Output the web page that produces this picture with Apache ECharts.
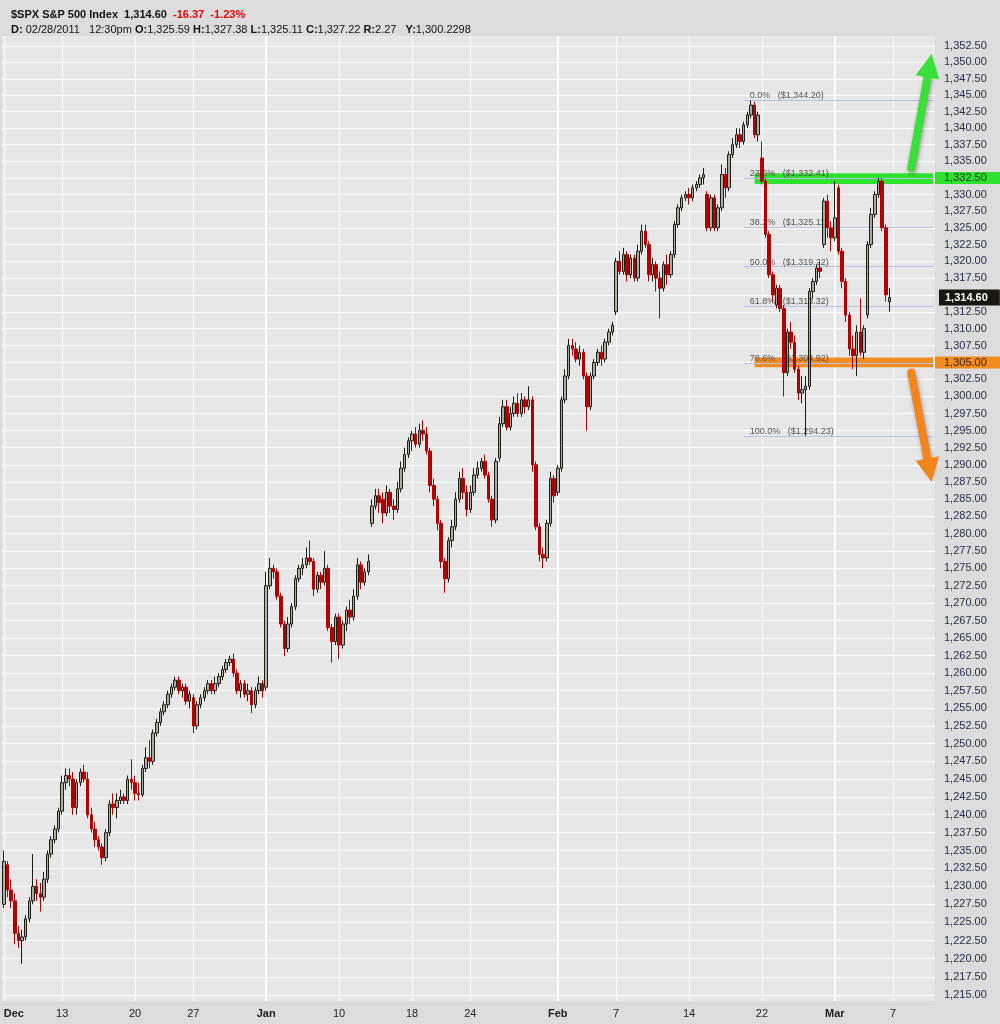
<!DOCTYPE html>
<html><head><meta charset="utf-8">
<script src="https://cdn.jsdelivr.net/npm/echarts@6/dist/echarts.min.js"></script>
<style>html,body{margin:0;padding:0;background:#dcdcdc}#c{width:1000px;height:1024px}</style>
</head><body><div id="c"></div>
<script>
// ---------- DATA ----------
const tradingDays = ['12/07','12/08','12/09','12/10','12/13','12/14','12/15','12/16','12/17','12/20','12/21','12/22','12/23','12/27','12/28','12/29','12/30','12/31',
  '01/03','01/04','01/05','01/06','01/07','01/10','01/11','01/12','01/13','01/14','01/18','01/19','01/20','01/21','01/24','01/25','01/26','01/27','01/28','01/31',
  '02/01','02/02','02/03','02/04','02/07','02/08','02/09','02/10','02/11','02/14','02/15','02/16','02/17','02/18','02/22','02/23','02/24','02/25','02/28',
  '03/01','03/02','03/03','03/04','03/07','03/08','03/09'];
const barsPerDay = 4;
// each bar: [open, close, low, high]
const decBars = [
 [1227.5,1233.5,1227,1235],[1233,1229.5,1228.5,1233.5],[1229.5,1228,1227,1231],[1228,1223.5,1222,1229],
 [1223.5,1222.5,1221.5,1224.5],[1222.5,1223,1219.3,1224],[1223,1225.5,1222.5,1226],[1225.5,1228,1225,1228.5],
 [1228,1230,1227.5,1234.5],[1230,1229,1228,1231],[1229,1228.5,1226.5,1230.5],[1228.5,1231,1228,1232],
 [1231,1234.5,1230.5,1235],[1234.5,1236.5,1234,1237],[1236.5,1238,1236,1238.5],[1238,1240.5,1237.5,1241],
 [1240.5,1244.5,1240,1245.5],[1244.5,1245.5,1243.5,1246.5],[1245.5,1245,1244,1246.5],[1245,1241,1240,1246],
 [1241,1244.5,1240,1245],[1244.5,1246,1244,1246.5],[1246,1245,1244.5,1247],[1245,1240,1239.5,1246],
 [1240,1238,1237.5,1241],[1238,1236.5,1235.5,1239],[1236.5,1235.5,1235,1237],[1235.5,1234,1233,1236],
 [1234,1237.5,1233.5,1238],[1237.5,1241.5,1237,1242],[1241.5,1241,1240,1243],[1241,1242,1239.5,1243],
 [1242,1242.5,1241.5,1243.5],[1242.5,1242,1241.5,1243],[1242,1245,1241.5,1245.5],[1245,1244.5,1243.5,1247.8],
 [1244.5,1243,1242,1245.5],[1243,1242.8,1242,1244.5],[1242.8,1246.5,1242.5,1247],[1246.5,1248,1246,1249.5],
 [1248,1247.5,1246.5,1250.5],[1247.5,1251.5,1247,1252],[1251.5,1253,1251,1253.5],[1253,1254.5,1252.5,1255],
 [1254.5,1255.5,1254,1256],[1255.5,1257,1255,1257.5],[1257,1258,1256.5,1258.5],[1258,1259,1257.5,1259.5],
 [1259,1257.5,1257,1259.5],[1257.5,1258,1256.5,1258.5],[1258,1256,1255.5,1258.5],[1256,1257,1255,1257.5],
 [1256.5,1252.5,1251.5,1257],[1252.5,1255.5,1252,1256],[1255.5,1256.5,1255,1257],[1256.5,1257.5,1256,1258],
 [1257.5,1258.5,1257,1259],[1258.5,1257.5,1257,1259],[1257.5,1258.5,1257,1259.5],[1258.5,1259.5,1258,1260],
 [1259.5,1260.5,1259,1261],[1260.5,1261.5,1260,1262],[1261.5,1262,1261,1262.5],[1262,1260,1259.5,1262.8],
 [1260,1257.5,1257,1260.5],[1257.5,1258.5,1256.5,1259],[1258.5,1257,1256.5,1259],[1257,1257.5,1256,1258.5],
 [1257.5,1255.5,1254.3,1258],[1255.5,1257.5,1255,1258],[1257.5,1258.5,1257,1259.5],[1258.5,1257.5,1256.5,1259]
];
const janBars = [
 [1258,1272.5,1257.5,1274.5],[1272.5,1275,1272,1276.5],[1275,1274.5,1273.5,1275.5],[1274.5,1271,1270.5,1275],
 [1271,1267,1266.5,1271.5],[1267,1263.5,1262.4,1267.5],[1263.5,1267,1263,1268],[1267,1269.5,1266.5,1270],
 [1269.5,1273.5,1269,1274],[1273.5,1275,1273,1275.5],[1275,1275.5,1274,1276.5],[1275.5,1276.5,1275,1278],
 [1276.5,1276,1275.5,1279],[1276,1272,1271,1276.5],[1272,1274,1271.5,1274.5],[1274,1273,1272,1274.5],
 [1273,1275,1272.5,1277.5],[1275,1266.5,1266,1275.5],[1266.5,1264.5,1261.5,1267],[1264.5,1268,1264,1268.5],
 [1268,1264,1262,1268.5],[1264,1267,1263.5,1267.5],[1267,1269,1266,1269.5],[1269,1268,1267,1270.5],
 [1268,1271,1267.5,1272],[1271,1275.5,1270.5,1276.5],[1275.5,1273,1272,1276],[1273,1274.5,1272.5,1275],
 [1274.5,1276,1274,1277],[1281.5,1284,1281,1285],[1284,1285.5,1283.5,1286.5],[1285.5,1284.5,1283,1286.5],
 [1285,1283,1281.5,1286],[1283,1286,1282.5,1287],[1286,1284,1283,1286.5],[1284,1283.5,1282,1285],
 [1283.5,1286.5,1283,1287.5],[1286.5,1289.5,1286,1290.5],[1289.5,1291.5,1289,1292.5],[1291.5,1293.5,1291,1294],
 [1293.5,1294.5,1292,1295],[1294.5,1293,1292.5,1295.5],[1293,1295,1292.5,1296],[1295,1294.5,1293.5,1296.5],
 [1294.5,1292,1291.5,1295.5],[1292,1287,1286,1292.5],[1287,1285,1284,1288],[1285,1281.5,1280.5,1285.5],
 [1281.5,1276,1275,1282],[1276,1273.5,1271.5,1276.5],[1273.5,1279,1273,1279.5],[1279,1281,1278,1282],
 [1281,1285,1280.5,1286],[1285,1288,1284.5,1289],[1288,1286,1285,1289.5],[1286,1283.5,1282.5,1287],
 [1283.5,1286,1283,1287],[1286,1288.5,1285.5,1289.5],[1288.5,1289.5,1288,1290.5],[1289.5,1290.5,1289,1291],
 [1290.5,1288.5,1288,1291.5],[1288.5,1285,1284.5,1289],[1285,1282,1281,1285.5],[1282,1290.5,1281.5,1291],
 [1291,1296,1290.5,1297],[1296,1298.5,1295.5,1299.5],[1298.5,1295.5,1295,1299.5],[1295.5,1297.5,1295,1298.5],
 [1297.5,1299,1297,1300],[1299,1297.5,1297,1300.5],[1297.5,1299.5,1297,1300.5],[1299.5,1298.5,1297.5,1300],
 [1298.5,1299.5,1298,1301.5],[1299.5,1290,1289,1300],[1290,1281,1280.5,1290.5],[1281,1277,1276,1281.5],
 [1277,1276.5,1275,1278],[1276.5,1281.5,1276,1282],[1281.5,1288,1281,1289],[1288,1285.5,1284.5,1288.5]
];
const febBars = [
 [1286,1289.5,1285.5,1290],[1289.5,1299.5,1289,1300],[1299.5,1303,1299,1304],[1303,1307.5,1302.5,1308.5],
 [1307.5,1307,1306,1308.5],[1307,1305.5,1305,1308],[1305.5,1306.5,1304.5,1307.5],[1306.5,1303,1302.5,1307],
 [1303,1298.5,1295,1303.5],[1298.5,1303,1298,1303.5],[1303,1305,1302.5,1305.5],[1305,1306.5,1304.5,1307],
 [1306.5,1305.5,1304.5,1307.5],[1305.5,1308,1305,1308.5],[1308,1309.5,1307.5,1310],[1309.5,1310.5,1309,1311],
 [1312.5,1320,1312,1320.5],[1320,1318.5,1318,1321.5],[1318.5,1321,1318,1322],[1321,1318,1317,1321.5],
 [1318,1320.5,1317.5,1321],[1320.5,1317.5,1317,1321],[1317.5,1321.5,1317,1322.5],[1321.5,1324.5,1321,1325.5],
 [1324.5,1322.5,1322,1325.5],[1322.5,1318,1317,1323],[1318,1319.5,1317,1320.5],[1319.5,1317.5,1315.5,1320],
 [1317.5,1316,1311.5,1318.5],[1316,1319.5,1315.5,1320],[1319.5,1318,1316.5,1321],[1318,1321,1317.5,1321.5],
 [1321,1325.5,1320.5,1326],[1325.5,1328,1325,1328.5],[1328,1329.5,1327.5,1330],[1329.5,1330,1329,1330.5],
 [1330,1329.5,1328.5,1331],[1329.5,1331,1329,1331.5],[1331,1331.5,1330.5,1332],[1331.5,1332.5,1331,1333],
 [1332.5,1333,1331.5,1334],[1330,1325,1324.5,1330.5],[1325,1329.5,1324.5,1330],[1329.5,1325,1324.5,1330],
 [1325,1328,1324.5,1328.5],[1328,1333,1327.5,1334.5],[1333,1331,1329.5,1334],[1331,1336,1330.5,1336.5],
 [1336,1337.5,1335.5,1338.5],[1337.5,1339,1337,1340],[1339,1338,1337,1340],[1338,1340.5,1337.5,1341],
 [1340.5,1342,1340,1342.5],[1342,1343.5,1341.5,1344.2],[1343.5,1339,1338.5,1344],[1339,1342,1338,1342.5],
 [1335.5,1332,1331.5,1338],[1332,1324,1323.5,1332.5],[1324,1318,1317.5,1324.5],[1318,1315,1314,1318.5],
 [1313.5,1316,1313,1316.5],[1316,1313,1312.5,1316.5],[1313,1303.5,1300,1313.5],[1303.5,1309.5,1303,1310],
 [1309.5,1308,1307,1311],[1308,1304,1303.5,1309],[1304,1300.5,1299.5,1304.5],[1300.5,1301,1299,1303],
 [1301,1301.5,1294.23,1303],[1301.5,1315.5,1301,1316],[1315.5,1317,1314.5,1317.5],[1317,1319,1316.5,1319.5],
 [1319,1318.5,1317.5,1320],[1322.5,1329,1322,1329.5],[1329,1325,1323.5,1330],[1325,1323.5,1321.5,1326]
];
const marBars = [
 [1323.5,1326.5,1323,1332],[1331,1321.5,1321,1331.5],[1321.5,1317,1316,1322],[1317,1312,1311,1317.5],
 [1312,1307,1306,1312.5],[1307,1306,1304,1309],[1306,1309.5,1303,1310.5],[1309.5,1306.5,1306,1314.5],
 [1306.5,1310,1305.5,1310.5],[1312,1322.5,1311.5,1323],[1322.5,1327,1322,1328],[1327,1330,1326.5,1330.5],
 [1330,1332,1329.5,1332.5],[1332,1325,1324.5,1332.5],[1325,1315,1314,1325.5],[1314,1314.6,1312.5,1316]
];
// x axis tick labels
const xTickDays = ['12/07','12/13','12/20','12/27','01/03','01/10','01/18','01/24','02/01','02/07','02/14','02/22','03/01','03/07'];
const xTickText = ['Dec','13','20','27','Jan','10','18','24','Feb','7','14','22','Mar','7'];
const monthStartDays = ['01/03','02/01','03/01'];
// y axis tick values
const yTicks = [1215,1217.5,1220,1222.5,1225,1227.5,1230,1232.5,1235,1237.5,1240,1242.5,1245,1247.5,1250,1252.5,1255,1257.5,1260,1262.5,
  1265,1267.5,1270,1272.5,1275,1277.5,1280,1282.5,1285,1287.5,1290,1292.5,1295,1297.5,1300,1302.5,1305,1307.5,1310,1312.5,1315,1317.5,
  1320,1322.5,1325,1327.5,1330,1332.5,1335,1337.5,1340,1342.5,1345,1347.5,1350,1352.5];
// Fibonacci retracement
const fibPct = [0.0, 23.6, 38.2, 50.0, 61.8, 78.6, 100.0];
const fibPrice = [1344.20, 1332.41, 1325.11, 1319.22, 1313.32, 1304.92, 1294.23];
const fibStartDay = '02/17', fibStartBar = 3;
// highlighted bands [low, high] and their axis label value
const greenBand = [1331.57, 1333.18], greenLabel = 1332.5;
const orangeBand = [1304.28, 1305.75], orangeLabel = 1305;
const bandStartDay = '02/18', bandStartBar = 2;
// arrows: [day, bar, price]
const greenArrow = {from: ['03/08', 1, 1334.0], to: ['03/09', 2, 1349.5]};
const orangeArrow = {from: ['03/08', 1, 1303.5], to: ['03/09', 2, 1289.2]};
const lastPrice = 1314.60;

// ---------- BUILD ----------
const categories = [];
tradingDays.forEach(d => { for (let j = 0; j < barsPerDay; j++) categories.push(d + ' ' + j); });
const candles = decBars.concat(janBars, febBars, marBars);
const catIdx = (d, j) => categories.indexOf(d + ' ' + j);
const lastCat = categories.length - 1;
const tickText = {};
xTickDays.forEach((d, i) => { tickText[d + ' 0'] = xTickText[i]; });
const fmt = v => v.toLocaleString('en-US', {minimumFractionDigits: 2, maximumFractionDigits: 2});
const FONT = 'Liberation Sans';

const chart = echarts.init(document.getElementById('c'));
const option = {
  animation: false,
  backgroundColor: '#dcdcdc',
  textStyle: {fontFamily: FONT},
  title: [
    {left: 6, top: 4, text: '{b|$SPX S&P 500 Index}  {b|1,314.60}  {r|-16.37}  {r|-1.23%}',
     textStyle: {fontSize: 11, fontWeight: 'normal', fontFamily: FONT,
       rich: {b: {fontSize: 11, fontWeight: 'bold', color: '#111', fontFamily: FONT},
              r: {fontSize: 11, fontWeight: 'bold', color: '#ee0000', fontFamily: FONT}}}},
    {left: 6, top: 19, text: '{b|D:} 02/28/2011   12:30pm {b|O:}1,325.59 {b|H:}1,327.38 {b|L:}1,325.11 {b|C:}1,327.22 {b|R:}2.27   {b|Y:}1,300.2298',
     textStyle: {fontSize: 11, fontWeight: 'normal', color: '#111', fontFamily: FONT,
       rich: {b: {fontSize: 11, fontWeight: 'bold', color: '#111', fontFamily: FONT}}}}
  ],
  grid: {left: 2, right: 65, top: 36, bottom: 23, show: true, backgroundColor: '#e7e7e7', borderWidth: 0,
         containLabel: false, outerBoundsMode: 'none'},
  xAxis: {
    type: 'category', data: categories, boundaryGap: true,
    axisLine: {show: false}, axisTick: {show: false},
    axisLabel: {
      interval: (i, v) => tickText[v] !== undefined,
      formatter: v => {
        const t = tickText[v];
        if (t === undefined) return '';
        if (/^[A-Z]/.test(t)) return (v === categories[0] ? '{d|' + t + '}' : '{m|' + t + '}');
        return t;
      },
      margin: 7, color: '#222', fontSize: 11, fontFamily: FONT,
      rich: {m: {fontWeight: 'bold', fontSize: 11, color: '#222', fontFamily: FONT},
             d: {fontWeight: 'bold', fontSize: 11, color: '#222', fontFamily: FONT, padding: [0, 0, 0, 20]}}
    },
    splitLine: {show: true, interval: (i, v) => tickText[v] !== undefined, alignWithLabel: true,
      lineStyle: {color: '#ffffff', width: 1}}
  },
  yAxis: {
    type: 'log', logBase: 10, position: 'right', min: 1214.18, max: 1354.03,
    axisLine: {show: false},
    axisTick: {show: false, customValues: yTicks},
    axisLabel: {
      customValues: yTicks, margin: 0, fontSize: 11, color: '#2a2d48', fontFamily: FONT,
      formatter: v => {
        if (Math.abs(v - greenLabel) < 0.01) return '{g|' + fmt(v) + '}';
        if (Math.abs(v - orangeLabel) < 0.01) return '{o|' + fmt(v) + '}';
        return '{n|' + fmt(v) + '}';
      },
      rich: {
        n: {padding: [0, 0, 0, 9], fontSize: 11, color: '#2a2d48', fontFamily: FONT},
        g: {padding: [1, 18, 0, 9], fontSize: 11, color: '#1a3a1a', fontFamily: FONT, backgroundColor: '#2fe22f', height: 11},
        o: {padding: [1, 18, 0, 9], fontSize: 11, color: '#3a2008', fontFamily: FONT, backgroundColor: '#f28c1e', height: 11}
      }
    },
    splitLine: {show: true, lineStyle: {color: '#ffffff', width: 1}}
  },
  series: [
    { // month boundaries
      type: 'line', data: [], z: 1, silent: true,
      markLine: {silent: true, z: 1, symbol: 'none', label: {show: false},
        lineStyle: {color: '#ffffff', width: 2, type: 'solid'},
        data: monthStartDays.map(d => ({xAxis: catIdx(d, 0)}))}
    },
    { // fib bands and lines
      type: 'line', data: [], z: 2, silent: true,
      markArea: {silent: true, z: 1.5,
        data: [
          [{coord: [catIdx(bandStartDay, bandStartBar), greenBand[0]], itemStyle: {color: '#2fe22f', opacity: 1}}, {coord: [lastCat, greenBand[1]]}],
          [{coord: [catIdx(bandStartDay, bandStartBar), orangeBand[0]], itemStyle: {color: '#f28c1e', opacity: 1}}, {coord: [lastCat, orangeBand[1]]}]
        ]},
      markLine: {silent: true, z: 2, symbol: 'none',
        lineStyle: {color: '#b6c1e8', width: 1, type: 'solid'},
        label: {show: true, position: 'insideStartTop', distance: [6, 0], fontSize: 9, color: '#555', fontFamily: FONT},
        data: fibPct.map((p, i) => [
          {coord: [catIdx(fibStartDay, fibStartBar), fibPrice[i]],
           label: {formatter: p.toFixed(1) + '%   ($' + fmt(fibPrice[i]) + ')'}},
          {coord: [lastCat, fibPrice[i]]}
        ])}
    },
    {
      name: '$SPX', type: 'candlestick', data: candles, z: 3, barWidth: 3,
      itemStyle: {color: 'rgba(120,120,110,0.55)', color0: '#b30000', borderColor: '#1e1e14', borderColor0: '#b30000', borderWidth: 1}
    },
    { // green arrow
      type: 'line', data: [], z: 5, silent: true,
      markLine: {silent: true, z: 6, symbol: ['none', 'triangle'], symbolSize: 24, label: {show: false},
        lineStyle: {color: '#3ae03a', width: 8, type: 'solid', cap: 'round', shadowBlur: 4, shadowColor: 'rgba(0,0,0,0.35)', shadowOffsetX: 1, shadowOffsetY: 2},
        itemStyle: {color: '#3ae03a'},
        data: [[{coord: [catIdx(greenArrow.from[0], greenArrow.from[1]), greenArrow.from[2]]}, {coord: [catIdx(greenArrow.to[0], greenArrow.to[1]), greenArrow.to[2]]}]]}
    },
    { // orange arrow
      type: 'line', data: [], z: 5, silent: true,
      markLine: {silent: true, z: 6, symbol: ['none', 'triangle'], symbolSize: 24, label: {show: false},
        lineStyle: {color: '#f2861c', width: 8, type: 'solid', cap: 'round', shadowBlur: 4, shadowColor: 'rgba(0,0,0,0.35)', shadowOffsetX: 1, shadowOffsetY: 2},
        itemStyle: {color: '#f2861c'},
        data: [[{coord: [catIdx(orangeArrow.from[0], orangeArrow.from[1]), orangeArrow.from[2]]}, {coord: [catIdx(orangeArrow.to[0], orangeArrow.to[1]), orangeArrow.to[2]]}]]}
    },
    { // last price tag
      type: 'line', data: [], z: 6, silent: true,
      markLine: {silent: true, z: 7, symbol: 'none', lineStyle: {color: 'rgba(0,0,0,0)', width: 0},
        label: {show: true, position: 'end', distance: 4, formatter: fmt(lastPrice), backgroundColor: '#17170d', color: '#ffffff',
          fontWeight: 'bold', fontSize: 11, fontFamily: FONT, padding: [3, 12, 2, 6]},
        data: [{yAxis: lastPrice}]}
    }
  ]
};
chart.setOption(option);
</script>
</body></html>
